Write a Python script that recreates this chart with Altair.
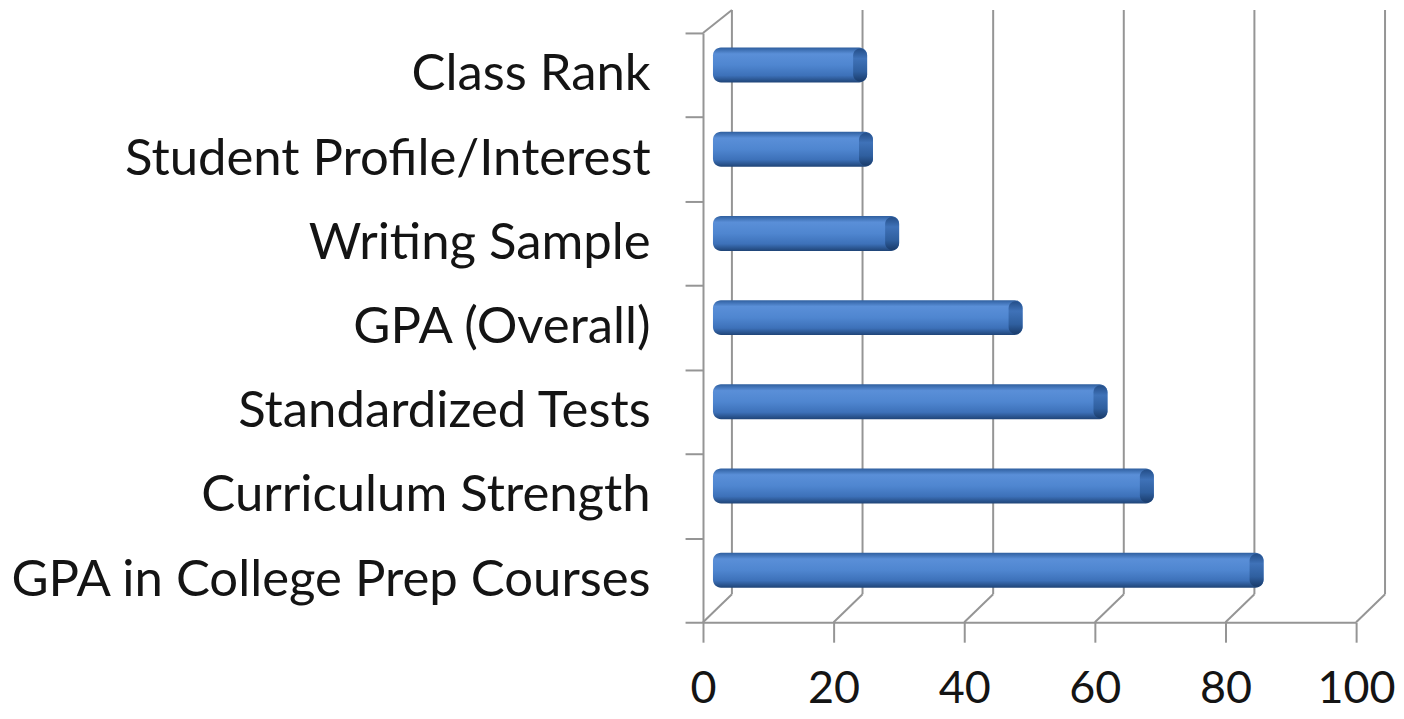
import altair as alt
import pandas as pd

# ---- data ----
categories = [
    "Class Rank",
    "Student Profile/Interest",
    "Writing Sample",
    "GPA (Overall)",
    "Standardized Tests",
    "Curriculum Strength",
    "GPA in College Prep Courses",
]
values = [23.6, 24.5, 28.5, 47.4, 60.4, 67.5, 84.3]
x_ticks = [0, 20, 40, 60, 80, 100]

df = pd.DataFrame({"category": categories, "value": values})
ticks_df = pd.DataFrame({"tick": x_ticks})
one_df = pd.DataFrame({"a": [0]})

W, H = 655, 591
DX = 29          # depth offset (px, to the right)
TOP_BACK = -23   # back wall top relative to front top
FLOOR_BACK = H - 28

FONT = "Lato"
GRID = "#959595"
TEXT = "#141414"

xscale = alt.Scale(domain=[0, 100], nice=False, zero=True)
yscale = alt.Scale(domain=categories, paddingInner=0, paddingOuter=0)

x_axis = alt.Axis(
    title=None, orient="bottom", values=x_ticks, grid=False,
    tickSize=20, tickColor=GRID, tickWidth=2,
    domainColor=GRID, domainWidth=2,
    labelFont=FONT, labelFontSize=45, labelColor=TEXT, labelPadding=24,
    labelFlush=False,
)
y_axis = alt.Axis(
    title=None, orient="left", tickBand="extent", grid=False,
    tickSize=18, tickColor=GRID, tickWidth=2,
    domainColor=GRID, domainWidth=2,
    labelFont=FONT, labelFontSize=51, labelColor=TEXT, labelPadding=35,
    labelLimit=1000,
)

body_grad = alt.Gradient(
    gradient="linear", x1=0, x2=0, y1=0, y2=1,
    stops=[
        alt.GradientStop(color="#2f5f9f", offset=0.0),
        alt.GradientStop(color="#5a8fd8", offset=0.18),
        alt.GradientStop(color="#4f86d0", offset=0.5),
        alt.GradientStop(color="#3d71b9", offset=0.8),
        alt.GradientStop(color="#1f4477", offset=1.0),
    ],
)
cap_grad = alt.Gradient(
    gradient="linear", x1=0, x2=0, y1=0, y2=1,
    stops=[
        alt.GradientStop(color="#244e88", offset=0.0),
        alt.GradientStop(color="#3f72b8", offset=0.3),
        alt.GradientStop(color="#2f5f9f", offset=0.7),
        alt.GradientStop(color="#1a3c6b", offset=1.0),
    ],
)

# back wall gridlines
back_grid = alt.Chart(ticks_df).mark_rule(
    xOffset=DX, x2Offset=DX, color=GRID, strokeWidth=2
).encode(
    x=alt.X("tick:Q", scale=xscale, axis=x_axis),
    y=alt.value(TOP_BACK),
    y2=alt.value(FLOOR_BACK),
)

# floor diagonals
floor_diag = alt.Chart(ticks_df).mark_rule(
    x2Offset=DX, color=GRID, strokeWidth=2
).encode(
    x=alt.X("tick:Q", scale=xscale, axis=x_axis),
    x2=alt.X2("tick"),
    y=alt.value(H),
    y2=alt.value(FLOOR_BACK),
)

# top-left diagonal of the side wall
top_diag = alt.Chart(one_df).mark_rule(color=GRID, strokeWidth=2).encode(
    x=alt.value(0), x2=alt.value(DX), y=alt.value(0), y2=alt.value(TOP_BACK)
)

bars = alt.Chart(df).mark_bar(
    size=35, yOffset=-10, xOffset=10, x2Offset=10,
    cornerRadius=8, color=body_grad,
).encode(
    y=alt.Y("category:N", scale=yscale, sort=categories, axis=y_axis),
    x=alt.X("value:Q", scale=xscale, axis=x_axis),
    x2=alt.datum(0),
)

caps = alt.Chart(df).mark_bar(
    size=33, yOffset=-10, xOffset=10, x2Offset=-4,
    cornerRadius=7, color=cap_grad,
).encode(
    y=alt.Y("category:N", scale=yscale, sort=categories, axis=y_axis),
    x=alt.X("value:Q", scale=xscale, axis=x_axis),
    x2=alt.X2("value"),
)

chart = alt.layer(back_grid, floor_diag, top_diag, bars, caps).properties(
    width=W, height=H,
    autosize=alt.AutoSizeParams(type="none"),
    padding={"left": 697, "top": 24, "right": 40, "bottom": 90},
    background="white",
).configure_view(stroke=None)

chart.save("out.html", embed_options={"renderer": "svg", "actions": False})
